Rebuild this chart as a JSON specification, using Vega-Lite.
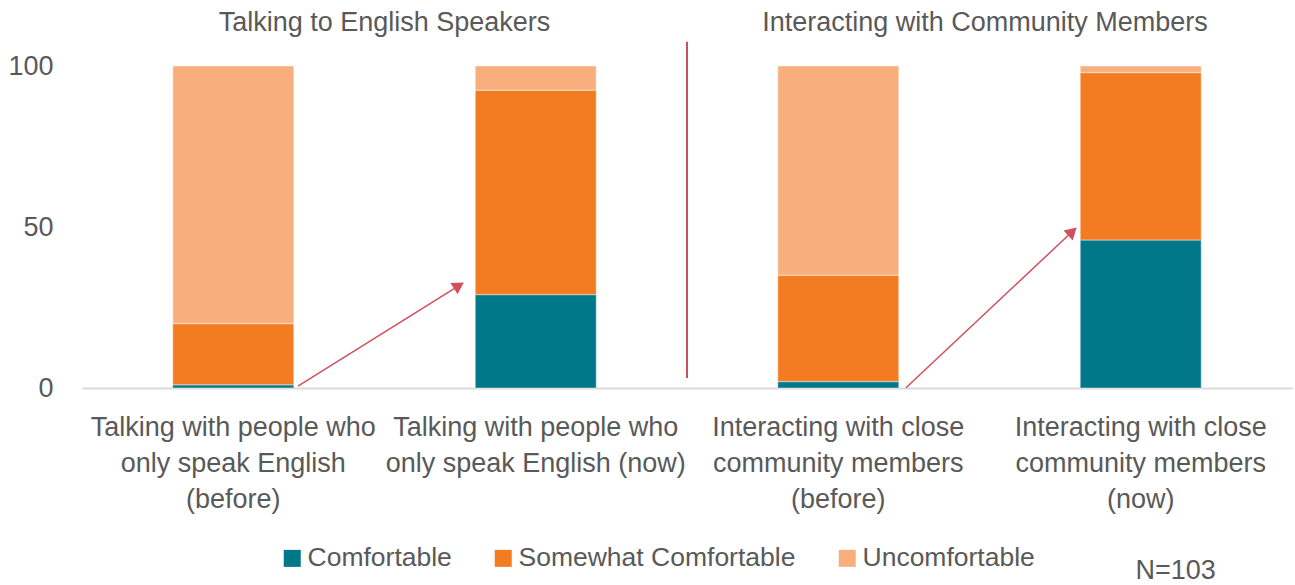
{
  "$schema": "https://vega.github.io/schema/vega-lite/v6.json",
  "autosize": {"type": "none"},
  "padding": {"left": 82, "top": 66, "right": 3, "bottom": 197},
  "width": 1210,
  "height": 322,
  "background": "white",
  "config": {
    "font": "Liberation Sans",
    "view": {"stroke": null},
    "axis": {"labelFont": "Liberation Sans", "labelColor": "#595959", "labelFontSize": 27}
  },
  "layer": [
    {
      "data": {
        "values": [
          {"item": "Talking with people who only speak English (before)", "level": "Comfortable", "pct": 1},
          {"item": "Talking with people who only speak English (before)", "level": "Somewhat Comfortable", "pct": 19},
          {"item": "Talking with people who only speak English (before)", "level": "Uncomfortable", "pct": 80},
          {"item": "Talking with people who only speak English (now)", "level": "Comfortable", "pct": 29},
          {"item": "Talking with people who only speak English (now)", "level": "Somewhat Comfortable", "pct": 63.5},
          {"item": "Talking with people who only speak English (now)", "level": "Uncomfortable", "pct": 7.5},
          {"item": "Interacting with close community members (before)", "level": "Comfortable", "pct": 2},
          {"item": "Interacting with close community members (before)", "level": "Somewhat Comfortable", "pct": 33},
          {"item": "Interacting with close community members (before)", "level": "Uncomfortable", "pct": 65},
          {"item": "Interacting with close community members (now)", "level": "Comfortable", "pct": 46},
          {"item": "Interacting with close community members (now)", "level": "Somewhat Comfortable", "pct": 52},
          {"item": "Interacting with close community members (now)", "level": "Uncomfortable", "pct": 2}
        ]
      },
      "mark": {"type": "bar", "stroke": "white", "strokeWidth": 1.5, "strokeOpacity": 0.3},
      "encoding": {
        "x": {
          "field": "item", "type": "nominal", "sort": null,
          "scale": {"paddingInner": 0.6, "paddingOuter": 0.3},
          "axis": {
            "title": null, "labelAngle": 0, "ticks": false,
            "domainColor": "#d9d9d9", "domainWidth": 2,
            "labelPadding": 26, "labelLineHeight": 36, "labelLimit": 0,
            "labelOverlap": false, "labelBound": false, "labelFlush": false,
            "labelExpr": "datum.value == 'Talking with people who only speak English (before)' ? ['Talking with people who', 'only speak English', '(before)'] : datum.value == 'Talking with people who only speak English (now)' ? ['Talking with people who', 'only speak English (now)'] : datum.value == 'Interacting with close community members (before)' ? ['Interacting with close', 'community members', '(before)'] : ['Interacting with close', 'community members', '(now)']"
          }
        },
        "y": {
          "field": "pct", "type": "quantitative", "stack": "zero",
          "scale": {"domain": [0, 100], "nice": false},
          "axis": {"title": null, "values": [0, 50, 100], "ticks": false, "domain": false, "grid": false, "labelPadding": 29}
        },
        "order": {"field": "level", "type": "nominal", "sort": "ascending"},
        "color": {
          "field": "level", "type": "nominal",
          "scale": {
            "domain": ["Comfortable", "Somewhat Comfortable", "Uncomfortable"],
            "range": ["#00788A", "#F37B22", "#F8AF7D"]
          },
          "legend": {
            "title": null, "orient": "none", "direction": "horizontal",
            "legendX": 197, "legendY": 479,
            "symbolType": "square", "symbolSize": 289, "symbolStrokeWidth": 0,
            "labelFontSize": 26.5, "labelColor": "#595959", "labelFont": "Liberation Sans",
            "labelOffset": 2, "columnPadding": 38, "padding": 0, "labelLimit": 0
          }
        }
      }
    },
    {
      "data": {"values": [{"x": 0.714, "y": 0.6, "x2": 1.246, "y2": 31.8}, {"x": 2.724, "y": 0.1, "x2": 3.274, "y2": 48.6}]},
      "mark": {"type": "rule", "color": "#D0505F", "strokeWidth": 1.5},
      "encoding": {
        "x": {"field": "x", "type": "quantitative", "scale": {"domain": [0, 4], "nice": false, "zero": false}, "axis": null},
        "x2": {"field": "x2"},
        "y": {"field": "y", "type": "quantitative"},
        "y2": {"field": "y2"}
      }
    },
    {
      "data": {"values": [{"x": 1.246, "y": 31.8}]},
      "mark": {"type": "point", "shape": "triangle-up", "filled": true, "color": "#D0505F", "opacity": 1, "size": 180, "angle": 58},
      "encoding": {
        "x": {"field": "x", "type": "quantitative", "scale": {"domain": [0, 4], "nice": false, "zero": false}, "axis": null},
        "y": {"field": "y", "type": "quantitative"}
      }
    },
    {
      "data": {"values": [{"x": 3.274, "y": 48.6}]},
      "mark": {"type": "point", "shape": "triangle-up", "filled": true, "color": "#D0505F", "opacity": 1, "size": 180, "angle": 47},
      "encoding": {
        "x": {"field": "x", "type": "quantitative", "scale": {"domain": [0, 4], "nice": false, "zero": false}, "axis": null},
        "y": {"field": "y", "type": "quantitative"}
      }
    },
    {
      "data": {"values": [{"x": 2, "y": 3.1, "y2": 107.5}]},
      "mark": {"type": "rule", "color": "#C9515C", "strokeWidth": 2},
      "encoding": {
        "x": {"field": "x", "type": "quantitative", "scale": {"domain": [0, 4], "nice": false, "zero": false}, "axis": null},
        "y": {"field": "y", "type": "quantitative"},
        "y2": {"field": "y2"}
      }
    },
    {
      "data": {"values": [
        {"x": 1.0, "y": 113.4, "label": "Talking to English Speakers"},
        {"x": 2.985, "y": 113.4, "label": "Interacting with Community Members"},
        {"x": 3.615, "y": -56.8, "label": "N=103"}
      ]},
      "mark": {"type": "text", "fontSize": 27, "color": "#595959", "font": "Liberation Sans", "baseline": "middle", "align": "center"},
      "encoding": {
        "x": {"field": "x", "type": "quantitative", "scale": {"domain": [0, 4], "nice": false, "zero": false}, "axis": null},
        "y": {"field": "y", "type": "quantitative"},
        "text": {"field": "label"}
      }
    }
  ],
  "resolve": {"scale": {"x": "independent"}}
}
